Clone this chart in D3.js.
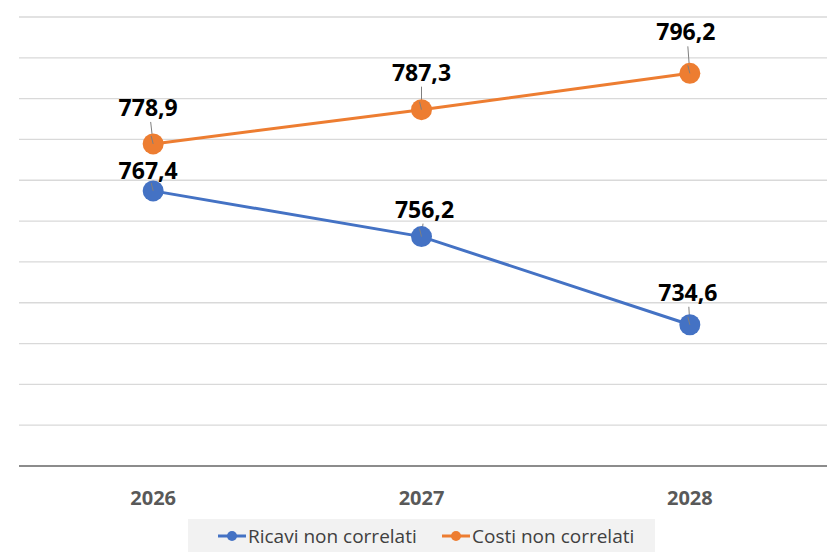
<!DOCTYPE html>
<html>
<head>
<meta charset="utf-8">
<script src="https://cdn.jsdelivr.net/npm/d3@7"></script>
<style>
  body { margin: 0; background: #fff; }
  svg { display: block; font-family: "Open Sans", sans-serif; }
</style>
</head>
<body>
<svg id="chart" width="827" height="555"></svg>
<script>
// data
const years = ["2026", "2027", "2028"];
const ricavi = [767.4, 756.2, 734.6];
const costi = [778.9, 787.3, 796.2];
const seriesNames = ["Ricavi non correlati", "Costi non correlati"];
const yTicks = [700, 710, 720, 730, 740, 750, 760, 770, 780, 790, 800, 810];

// label offsets (manually placed labels, px above point)
const labelLift = [[12, 19, 24], [28, 29, 33]];
const labelShift = [[-5, 3, -2], [-5, 0, -4]];

const colors = ["#4472C4", "#ED7D31"];

const svg = d3.select("#chart");
const W = 827;

let x = d3.scaleBand().domain(years).range([19, 824]);
let y = d3.scaleLinear().domain([700, 810]).range([466, 17]);
const cx = d => x(d) + x.bandwidth() / 2;

// gridlines
svg.append("g").selectAll("line")
    .data(yTicks.slice(1))
    .enter().append("line")
    .attr("x1", 19).attr("x2", W)
    .attr("y1", d => y(d)).attr("y2", d => y(d))
    .attr("stroke", "#d9d9d9").attr("stroke-width", 1.3);

// axis line
svg.append("line")
    .attr("x1", 19).attr("x2", W)
    .attr("y1", y(700)).attr("y2", y(700))
    .attr("stroke", "#8c8c8c").attr("stroke-width", 2);

// x labels
svg.append("g").selectAll("text")
    .data(years)
    .enter().append("text")
    .attr("x", d => cx(d))
    .attr("y", 505)
    .attr("text-anchor", "middle")
    .attr("font-size", "20px")
    .attr("font-weight", 700)
    .attr("fill", "#595959")
    .text(d => d);

let line = d3.line()
    .x((d, i) => cx(years[i]))
    .y(d => y(d));

[ricavi, costi].forEach(function (vals, s) {
    let g = svg.append("g");
    g.append("path")
        .datum(vals)
        .attr("d", line)
        .attr("fill", "none")
        .attr("stroke", colors[s])
        .attr("stroke-width", 3);

    // leader lines
    g.selectAll("line.leader")
        .data(vals)
        .enter().append("line")
        .attr("class", "leader")
        .attr("x1", (d, i) => cx(years[i]) + labelShift[s][i] * 0.5)
        .attr("y1", (d, i) => y(d) - labelLift[s][i] + 6)
        .attr("x2", (d, i) => cx(years[i]))
        .attr("y2", d => y(d))
        .attr("stroke", "#7f7f7f").attr("stroke-width", 1);

    g.selectAll("circle")
        .data(vals)
        .enter().append("circle")
        .attr("cx", (d, i) => cx(years[i]))
        .attr("cy", d => y(d))
        .attr("r", 10.5)
        .attr("fill", colors[s]);

    g.selectAll("line.inner")
        .data(vals)
        .enter().append("line")
        .attr("class", "inner")
        .attr("x1", (d, i) => cx(years[i]) - 2)
        .attr("y1", d => y(d) - 8)
        .attr("x2", (d, i) => cx(years[i]))
        .attr("y2", d => y(d))
        .attr("stroke", "#7f7f7f").attr("stroke-width", 1);

    g.selectAll("text")
        .data(vals)
        .enter().append("text")
        .attr("x", (d, i) => cx(years[i]) + labelShift[s][i])
        .attr("y", (d, i) => y(d) - labelLift[s][i])
        .attr("text-anchor", "middle")
        .attr("font-size", "23px")
        .attr("font-weight", 700)
        .attr("fill", "#000")
        .text(d => d3.format(".1f")(d).replace(".", ","));
});

// legend
let legend = svg.append("g");
legend.append("rect")
    .attr("x", 188).attr("y", 519)
    .attr("width", 467).attr("height", 33)
    .attr("fill", "#f2f2f2");

const legendX = [218, 442];
seriesNames.forEach(function (name, s) {
    let lx = legendX[s];
    legend.append("line")
        .attr("x1", lx).attr("x2", lx + 28)
        .attr("y1", 536).attr("y2", 536)
        .attr("stroke", colors[s]).attr("stroke-width", 3);
    legend.append("circle")
        .attr("cx", lx + 14).attr("cy", 536).attr("r", 5)
        .attr("fill", colors[s]);
    legend.append("text")
        .attr("x", lx + 30).attr("y", 542.5)
        .attr("font-size", "19px")
        .attr("fill", "#404040")
        .text(name);
});
</script>
</body>
</html>
